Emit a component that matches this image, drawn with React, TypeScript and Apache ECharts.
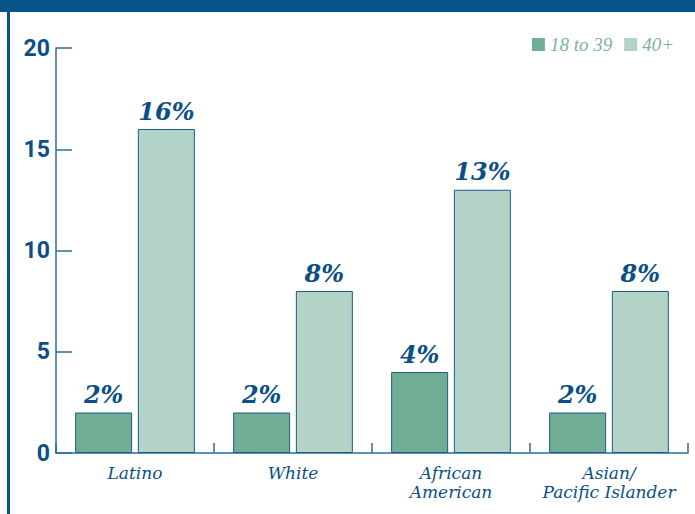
import React, { useEffect, useRef } from "react";
import * as echarts from "echarts";

const categories = ["Latino", "White", "African\nAmerican", "Asian/\nPacific Islander"];
const young = [2, 2, 4, 2];
const older = [16, 8, 13, 8];
const seriesNames = ["18 to 39", "40+"];
const yTicks = { min: 0, max: 20, interval: 5 };

const BLUE = "#0b4f86";
const AXIS = "#2c6b9c";
const DARK_GREEN = "#6fad95";
const LIGHT_GREEN = "#b3d3c6";

export default function App() {
  const ref = useRef<HTMLDivElement>(null);
  useEffect(() => {
    const chart = echarts.init(ref.current!, null, { renderer: "svg" });
    const labelStyle = {
      show: true,
      position: "top" as const,
      distance: 6,
      formatter: "{c}%",
      color: BLUE,
      fontFamily: "'DejaVu Serif', serif",
      fontStyle: "italic" as const,
      fontWeight: "bold" as const,
      fontSize: 24,
    };
    chart.setOption({
      animation: false,
      backgroundColor: "#ffffff",
      graphic: [
        { type: "rect", shape: { x: 0, y: 0, width: 695, height: 12 }, style: { fill: "#06548a" } },
        { type: "rect", shape: { x: 7, y: 0, width: 3, height: 514 }, style: { fill: "#06548a" } },
      ],
      legend: {
        right: 16,
        top: 30,
        itemWidth: 13,
        itemHeight: 13,
        itemGap: 12,
        icon: "rect",
        data: seriesNames,
        itemStyle: { borderWidth: 0 },
        textStyle: {
          color: "#7db2a1",
          fontFamily: "'Liberation Serif', serif",
          fontStyle: "italic",
          fontSize: 19,
        },
      },
      grid: { left: 56, right: 7, top: 48, bottom: 61, containLabel: false },
      xAxis: {
        type: "category",
        data: categories,
        axisLine: { lineStyle: { color: AXIS, width: 1.5 } },
        axisTick: { show: true, inside: true, length: 10, lineStyle: { color: AXIS, width: 1.5 } },
        axisLabel: {
          color: BLUE,
          fontFamily: "'DejaVu Serif', serif",
          fontStyle: "italic",
          fontSize: 17,
          lineHeight: 19,
          margin: 10,
          interval: 0,
        },
      },
      yAxis: {
        type: "value",
        min: yTicks.min,
        max: yTicks.max,
        interval: yTicks.interval,
        splitLine: { show: false },
        axisLine: { show: true, lineStyle: { color: AXIS, width: 1.5 } },
        axisTick: { show: true, inside: true, length: 16, lineStyle: { color: AXIS, width: 1.5 } },
        axisLabel: {
          color: BLUE,
          fontFamily: "Roboto, sans-serif",
          fontWeight: "bold",
          fontSize: 23,
          margin: 6,
        },
      },
      series: [
        {
          name: seriesNames[0],
          type: "bar",
          data: young,
          barWidth: 57,
          barGap: "10%",
          itemStyle: { color: DARK_GREEN, borderColor: "#1d5b8a", borderWidth: 1 },
          label: labelStyle,
        },
        {
          name: seriesNames[1],
          type: "bar",
          data: older,
          barWidth: 57,
          barGap: "10%",
          itemStyle: { color: LIGHT_GREEN, borderColor: "#1d5b8a", borderWidth: 1 },
          label: labelStyle,
        },
      ],
    });
    return () => chart.dispose();
  }, []);
  return (
    <div
      ref={ref}
      style={{ position: "fixed", left: 0, top: 0, width: 695, height: 514 }}
    />
  );
}
